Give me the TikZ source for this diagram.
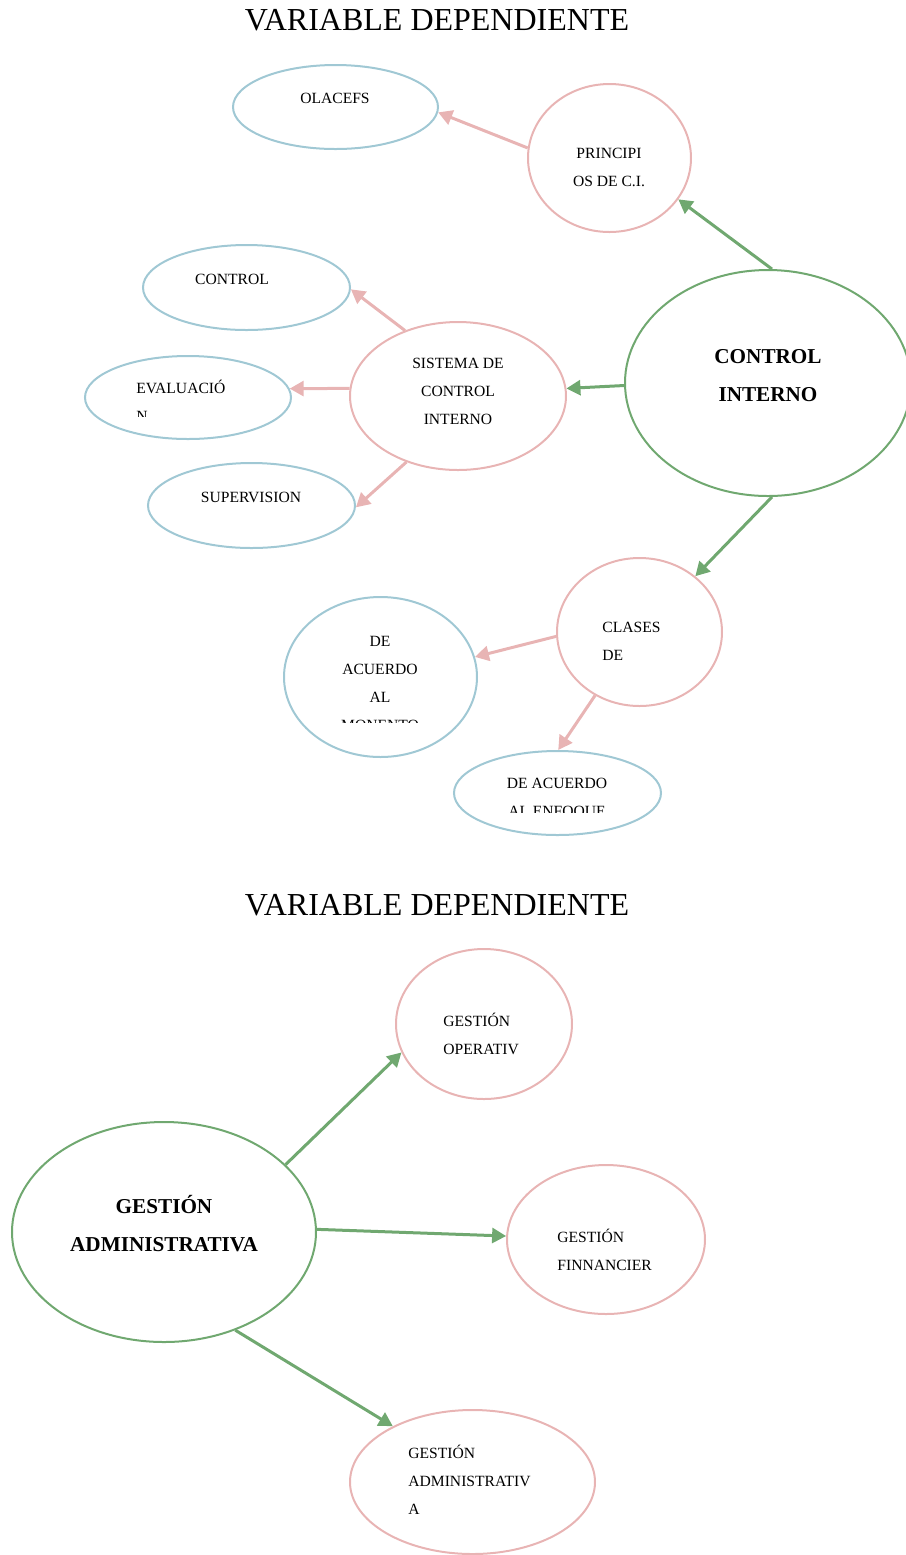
\documentclass[tikz,border=0pt]{standalone}
\usepackage{fontspec}
\setmainfont{Liberation Serif}
\usetikzlibrary{arrows.meta, shapes.geometric}

\definecolor{vgreen}{RGB}{112,168,112}
\definecolor{vpink}{RGB}{232,180,180}
\definecolor{vblue}{RGB}{160,200,212}

\tikzset{
  elli/.style={ellipse, draw, line width=1pt, inner sep=0pt},
  pinkel/.style={elli, draw=vpink},
  blueel/.style={elli, draw=vblue},
  greenel/.style={elli, draw=vgreen},
  txt/.style={inner sep=0pt, font=\fontsize{7.8}{14}\selectfont, align=center},
  bigtxt/.style={inner sep=0pt, font=\fontsize{10.6}{19}\selectfont\bfseries, align=center},
  titletxt/.style={inner sep=0pt, font=\fontsize{16}{19}\selectfont},
  garrow/.style={draw=vgreen, line width=1.5pt, -{Triangle[length=7pt, width=7.5pt]}},
  parrow/.style={draw=vpink, line width=1.5pt, -{Triangle[length=7pt, width=7.5pt]}}
}

\begin{document}
\begin{tikzpicture}[x=0.5pt, y=-0.5pt]
\useasboundingbox (0,0) rectangle (906,1555);

% primera variable
\node[titletxt] (titulo1) at (437,20) {VARIABLE DEPENDIENTE};

\node[greenel, minimum width=143pt, minimum height=113pt] (ci) at (768,383) {};
\node[pinkel, minimum width=81.5pt, minimum height=74pt] (principios) at (609.5,158) {};
\node[blueel, minimum width=102.5pt, minimum height=42pt] (olacefs) at (335.5,107) {};
\node[pinkel, minimum width=108pt, minimum height=74pt] (sistema) at (458,396) {};
\node[blueel, minimum width=103.5pt, minimum height=42.5pt] (control) at (246.5,287.5) {};
\node[blueel, minimum width=103pt, minimum height=41.5pt] (evaluacion) at (188,397.5) {};
\node[blueel, minimum width=103.5pt, minimum height=42.5pt] (supervision) at (251.5,505.5) {};
\node[pinkel, minimum width=82.5pt, minimum height=74pt] (clases) at (639.5,632) {};
\node[blueel, minimum width=96.5pt, minimum height=80pt] (momento) at (380.5,677) {};
\node[blueel, minimum width=103.5pt, minimum height=42pt] (enfoque) at (557.5,793) {};

\node[bigtxt] (tci) at (768,376) {CONTROL\\INTERNO};
\node[txt] (tprincipios) at (609,167) {PRINCIPI\\OS DE C.I.};
\node[txt] (tolacefs) at (335,98) {OLACEFS};
\node[txt] (tsistema) at (458,391.5) {SISTEMA DE\\CONTROL\\INTERNO};
\node[txt] (tcontrol) at (232,279) {CONTROL};
\begin{scope}
  \clip (90,360) rectangle (290,416);
  \node[txt, align=left, anchor=west] (tevaluacion) at (136,400.5) {EVALUACIÓ\\N};
\end{scope}
\node[txt] (tsupervision) at (251,497) {SUPERVISION};
\node[txt, align=left, anchor=west] (tclases) at (602,641) {CLASES\\DE};
\begin{scope}
  \clip (290,610) rectangle (470,722);
  \node[txt] (tmomento) at (380,683) {DE\\ACUERDO\\AL\\MONENTO};
\end{scope}
\begin{scope}
  \clip (460,760) rectangle (655,812);
  \node[txt] (tenfoque) at (557,798.5) {DE ACUERDO\\AL ENFOQUE};
\end{scope}

\draw[garrow] (ci.88) -- (principios.-31);
\draw[garrow] (ci.181) -- (sistema.4);
\draw[garrow] (ci.272) -- (clases.45);
\draw[parrow] (principios.173) -- (olacefs.-3);
\draw[parrow] (sistema.129) -- (control.-1);
\draw[parrow] (sistema.176) -- (evaluacion.5);
\draw[parrow] (sistema.232) -- (supervision.-1);
\draw[parrow] (clases.183) -- (momento.12);
\draw[parrow] (clases.235) -- (enfoque.89);

% segunda variable
\node[titletxt] (titulo2) at (437,905) {VARIABLE DEPENDIENTE};

\node[greenel, minimum width=152pt, minimum height=110pt] (gadm) at (164,1232) {};
\node[pinkel, minimum width=88pt, minimum height=75pt] (gop) at (484,1024) {};
\node[pinkel, minimum width=99pt, minimum height=74.5pt] (gfin) at (606,1239.5) {};
\node[pinkel, minimum width=122.5pt, minimum height=72pt] (gadm2) at (472.5,1482) {};

\node[bigtxt] (tgadm) at (164,1224) {GESTIÓN\\ADMINISTRATIVA};
\node[txt, align=left, anchor=west] (tgop) at (443,1034) {GESTIÓN\\OPERATIV};
\node[txt, align=left, anchor=west] (tgfin) at (557,1249.5) {GESTIÓN\\FINNANCIER};
\node[txt, align=left, anchor=west] (tgadm2) at (408,1480) {GESTIÓN\\ADMINISTRATIV\\A};

\draw[garrow] (gadm.29) -- (gop.199);
\draw[garrow] (gadm.1.5) -- (gfin.178);
\draw[garrow] (gadm.306) -- (gadm2.145);
\end{tikzpicture}
\end{document}
